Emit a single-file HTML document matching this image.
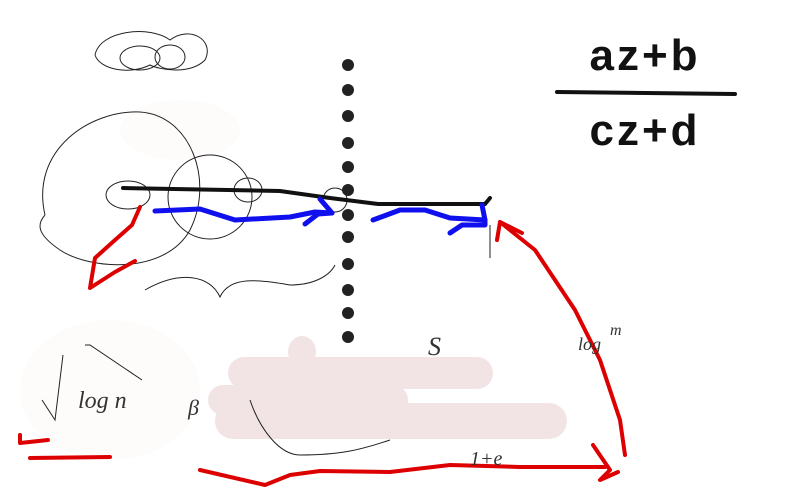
<!DOCTYPE html>
<html><head><style>html,body{margin:0;padding:0;background:#fff;}svg{display:block}</style></head>
<body>
<svg width="800" height="500" viewBox="0 0 800 500" xmlns="http://www.w3.org/2000/svg">
<rect width="800" height="500" fill="#fff"/>
<g fill="#fefbfb">
<ellipse cx="110" cy="390" rx="90" ry="70"/>
<ellipse cx="180" cy="130" rx="60" ry="30"/>
</g>
<g fill="#f2e4e4">
<rect x="228" y="357" width="265" height="32" rx="16"/>
<rect x="215" y="403" width="352" height="36" rx="18"/>
<rect x="208" y="385" width="200" height="30" rx="15"/>
<ellipse cx="302" cy="352" rx="14" ry="16"/>
</g>
<g fill="none" stroke="#222" stroke-width="1">
<path d="M45,215 C30,150 90,110 140,112 C190,115 215,180 190,230 C165,275 90,270 60,250 C38,235 36,225 45,215"/>
<circle cx="210" cy="197" r="42"/>
<ellipse cx="128" cy="195" rx="22" ry="14"/>
<ellipse cx="248" cy="190" rx="14" ry="12"/>
<ellipse cx="335" cy="200" rx="12" ry="12"/>
<path d="M145,290 C180,270 210,275 220,297 C230,275 260,280 290,285 C315,285 330,275 335,265"/>
<path d="M95,55 C100,30 150,25 170,40 C190,25 215,40 205,60 C190,75 160,70 150,65 C130,75 100,70 95,55"/>
<ellipse cx="140" cy="58" rx="20" ry="12"/>
<ellipse cx="170" cy="57" rx="15" ry="12"/>
<path d="M250,400 C260,430 280,455 300,455 C340,455 360,450 390,440"/>
<path d="M490,225 L490,258"/>
<path d="M85,345 L90,345 L142,380"/>
<path d="M42,400 L55,420 L63,355"/>
</g>
<g fill="#222">
<circle cx="348" cy="65" r="6"/><circle cx="348" cy="90" r="6"/><circle cx="348" cy="116" r="6"/><circle cx="348" cy="143" r="6"/><circle cx="348" cy="167" r="6"/><circle cx="348" cy="190" r="6"/><circle cx="348" cy="215" r="6"/><circle cx="348" cy="237" r="6"/><circle cx="348" cy="264" r="6"/><circle cx="348" cy="290" r="6"/><circle cx="348" cy="313" r="6"/><circle cx="348" cy="337" r="6"/>
</g>
<path d="M123,188 L280,191 L330,198 L378,204 L485,204 L490,198" fill="none" stroke="#111" stroke-width="4" stroke-linecap="round"/>
<g fill="none" stroke="#1010ee" stroke-width="5" stroke-linecap="round" stroke-linejoin="round">
<path d="M155,211 L200,209 L235,220 L290,217 L315,212 L332,213"/>
<path d="M305,224 L318,214 L332,213 L320,199"/>
<path d="M373,220 L400,210 L425,210 L450,218 L485,220 L482,205"/>
<path d="M450,233 L462,225 L485,225 L485,220"/>
</g>
<g fill="none" stroke="#dd0000" stroke-width="4" stroke-linecap="round" stroke-linejoin="round">
<path d="M140,207 L132,225 L115,240 L95,258 L90,288 L115,272 L135,261"/>
<path d="M20,435 L20,443 L48,440"/>
<path d="M30,458 L110,457"/>
<path d="M200,470 L265,485 L290,475 L320,471 L390,472 L450,465 L520,467 L605,467"/>
<path d="M593,445 L610,470 L600,480 L618,472"/>
<path d="M625,455 L620,420 L600,360 L575,310 L535,250 L500,222 L497,240"/>
<path d="M500,222 L522,233"/>
</g>
<g font-family="'Liberation Sans',sans-serif" fill="#111" font-weight="bold">
<text x="645" y="70" font-size="44" text-anchor="middle" letter-spacing="3">az+b</text>
<text x="645" y="145" font-size="44" text-anchor="middle" letter-spacing="3">cz+d</text>
</g>
<path d="M557,92 L735,94" stroke="#111" stroke-width="4" stroke-linecap="round"/>
<g font-family="'Liberation Serif',serif" fill="#333" font-style="italic">
<text x="78" y="408" font-size="24">log n</text>
<text x="188" y="415" font-size="22">β</text>
<text x="428" y="355" font-size="26">S</text>
<text x="578" y="350" font-size="18">log</text>
<text x="610" y="335" font-size="16">m</text>
<text x="470" y="465" font-size="20">1+e</text>
</g>
</svg>
</body></html>
